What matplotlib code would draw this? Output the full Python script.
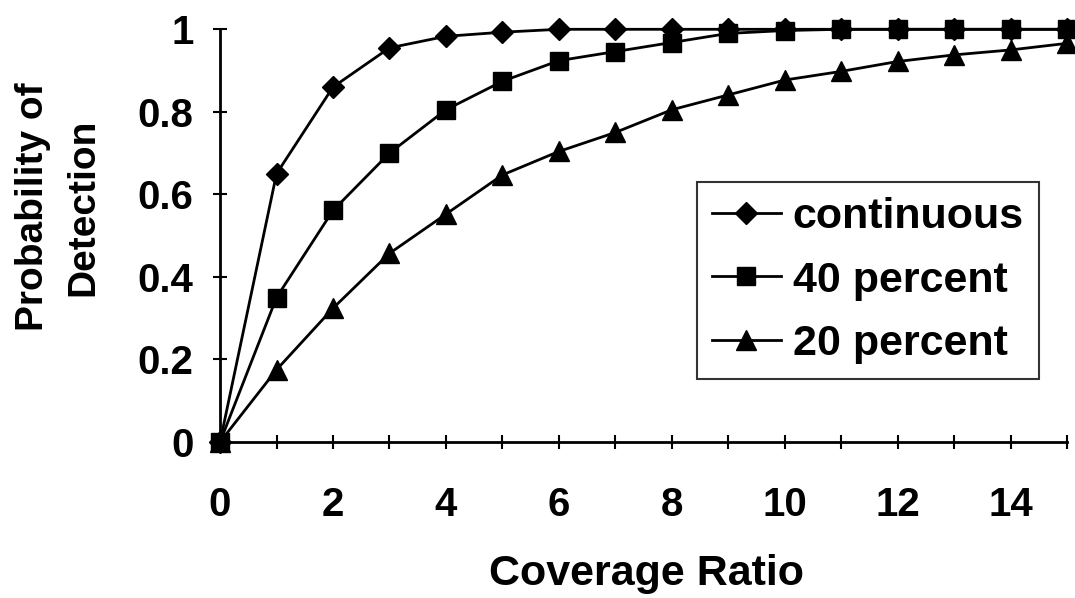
import matplotlib.pyplot as plt
from matplotlib.ticker import MultipleLocator
import numpy as np

# Dati
coverage_ratio = np.arange(0, 16)
continuous = [0, 0.65, 0.86, 0.955, 0.983, 0.993, 1.0, 1.0, 1.0, 1.0, 1.0, 1.0, 1.0, 1.0, 1.0, 1.0]
percent_40 = [0, 0.35, 0.561, 0.70, 0.805, 0.874, 0.924, 0.946, 0.968, 0.99, 0.997, 1.0, 1.0, 1.0, 1.0, 1.0]
percent_20 = [0, 0.175, 0.324, 0.457, 0.552, 0.647, 0.704, 0.75, 0.805, 0.841, 0.877, 0.898, 0.922, 0.938, 0.95, 0.966]
y_ticks = [0, 0.2, 0.4, 0.6, 0.8, 1.0]
y_tick_labels = ['0', '0.2', '0.4', '0.6', '0.8', '1']
x_ticks = [0, 2, 4, 6, 8, 10, 12, 14]

plt.rcParams['font.family'] = ['Liberation Sans', 'DejaVu Sans']
plt.rcParams['font.weight'] = 'bold'

fig = plt.figure(figsize=(10.75, 5.98), dpi=100)
ax = fig.add_axes([0.2047, 0.2609, 0.7879, 0.6901])

# i quadrati stanno sopra agli altri marker
ax.plot(coverage_ratio, continuous, color='black', linewidth=2, marker='D',
        markersize=11, label='continuous', clip_on=False, zorder=3)
ax.plot(coverage_ratio, percent_40, color='black', linewidth=2, marker='s',
        markersize=13.5, label='40 percent', clip_on=False, zorder=5)
ax.plot(coverage_ratio, percent_20, color='black', linewidth=2, marker='^',
        markersize=14, label='20 percent', clip_on=False, zorder=4)

ax.set_xlim(0, 15)
ax.set_ylim(0, 1)

ax.spines['top'].set_visible(False)
ax.spines['right'].set_visible(False)
ax.spines['left'].set_linewidth(2)
ax.spines['bottom'].set_linewidth(2)

ax.set_xticks(x_ticks)
ax.xaxis.set_minor_locator(MultipleLocator(1))
ax.set_yticks(y_ticks)
ax.set_yticklabels(y_tick_labels)

ax.tick_params(axis='both', which='both', direction='inout', width=1.5, labelsize=29)
ax.tick_params(axis='x', which='major', length=10, pad=27)
ax.tick_params(axis='x', which='minor', length=10)
ax.tick_params(axis='y', which='major', length=10, pad=14)

# Etichette degli assi
fig.text(0.601, 0.04, 'Coverage Ratio', ha='center', va='center', fontsize=31,
         fontweight='bold')
fig.text(0.054, 0.654, 'Probability of\nDetection', ha='center', va='center',
         rotation=90, fontsize=28, fontweight='bold', multialignment='center',
         linespacing=1.5)

leg = ax.legend(loc='upper left', bbox_to_anchor=(0.648, 0.696),
                bbox_transform=fig.transFigure, borderaxespad=0, fontsize=31,
                frameon=True, fancybox=False, edgecolor='black',
                handlelength=1.6, handletextpad=0.28, labelspacing=0.55,
                borderpad=0.35)
leg.get_frame().set_linewidth(1.5)

fig.savefig('out.png', dpi=100)
